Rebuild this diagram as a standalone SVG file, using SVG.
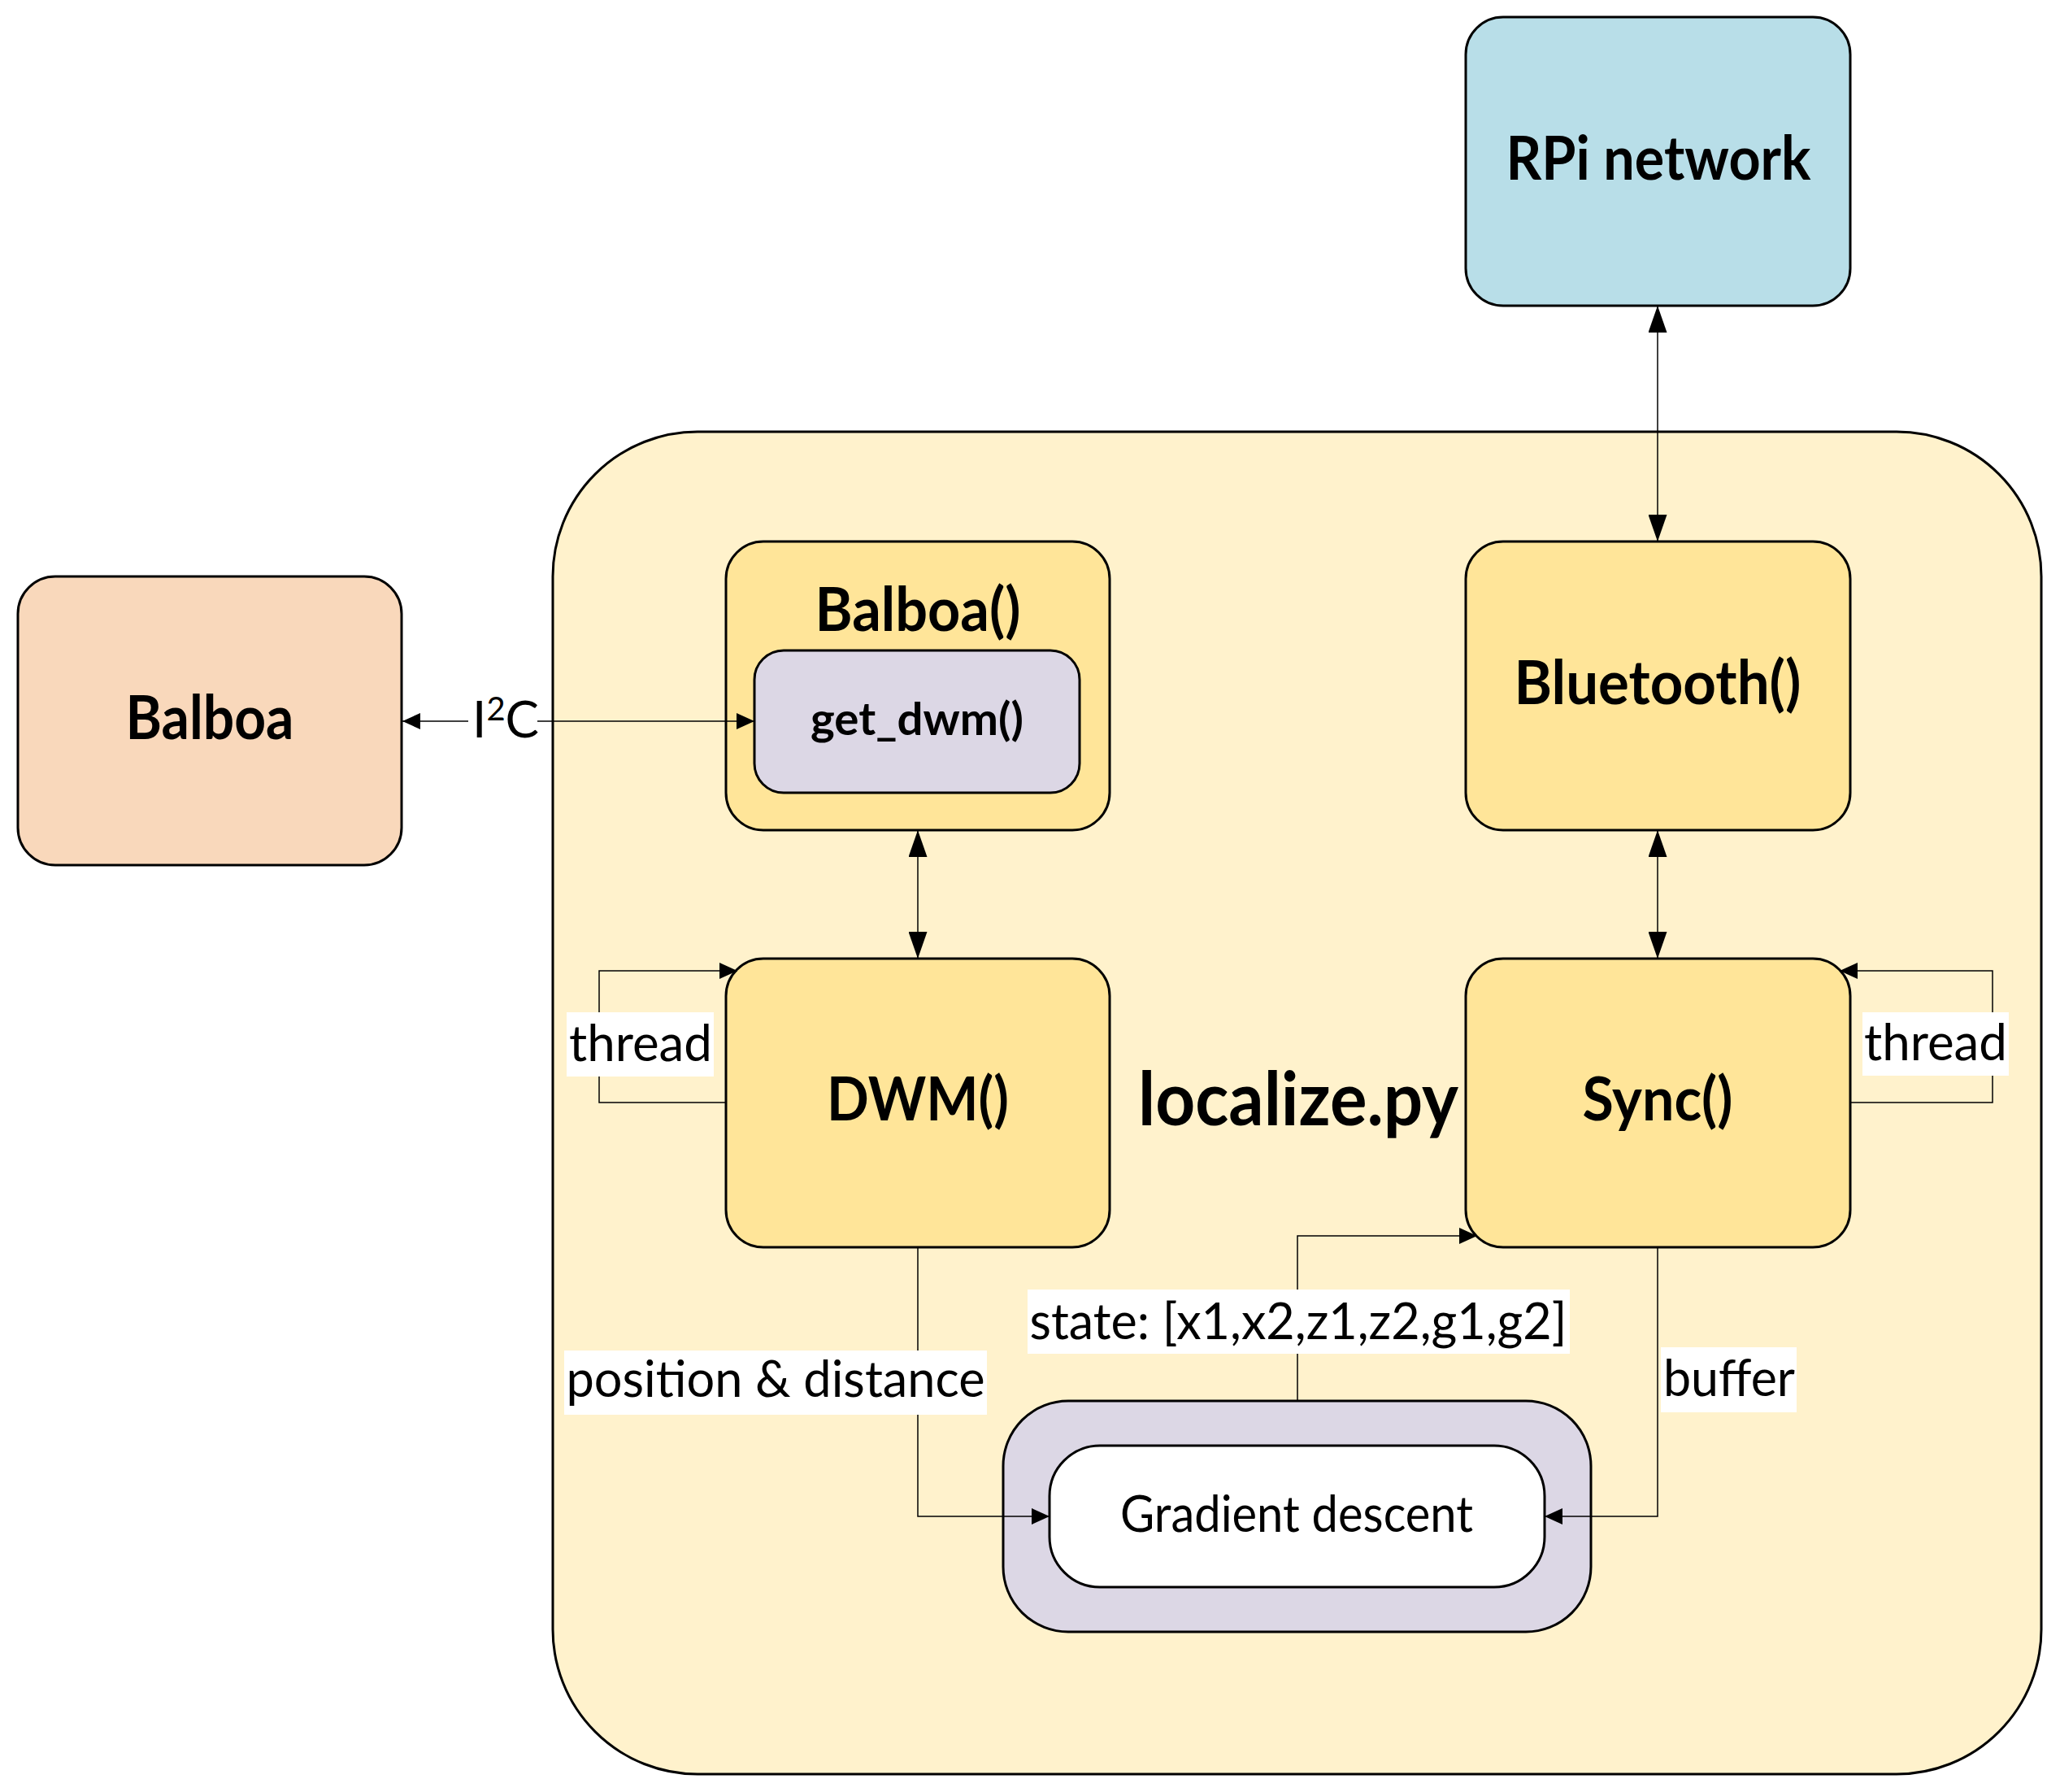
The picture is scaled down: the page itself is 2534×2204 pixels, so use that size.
<svg xmlns="http://www.w3.org/2000/svg" width="2534" height="2204" viewBox="0 0 2534 2204">
<style>
.box{stroke:#000;stroke-width:3}
.yel{fill:#FFE599}
.lav{fill:#DCD7E5}
.t{font-family:Lato,"Open Sans","Liberation Sans",sans-serif;fill:#000;text-anchor:middle}
.b{font-weight:bold}
.lbl{font-family:Lato,"Open Sans","Liberation Sans",sans-serif;fill:#000;font-size:62px;text-anchor:middle}
.bg{fill:#fff}
.c{fill:none;stroke:#000;stroke-width:1.5}
</style>
<defs>
<marker id="big" markerUnits="userSpaceOnUse" markerWidth="33" markerHeight="23" refX="33" refY="11.5" orient="auto-start-reverse"><path d="M0,0 L33,11.5 L0,23 z" fill="#000"/></marker>
<marker id="sm" markerUnits="userSpaceOnUse" markerWidth="22" markerHeight="20" refX="22" refY="10" orient="auto-start-reverse"><path d="M0,0 L22,10 L0,20 z" fill="#000"/></marker>
</defs>
<rect width="2534" height="2204" fill="#fff"/>
<g id="localize">
<rect class="box" x="680" y="531" width="1831" height="1651" rx="178" fill="#FFF2CC"/>
<text class="t b" x="1597" y="1384" font-size="92" textLength="394" lengthAdjust="spacingAndGlyphs">localize.py</text>
</g>
<g id="rpi">
<rect class="box" x="1803" y="21" width="473" height="355" rx="46" fill="#B8DEE8"/>
<text class="t b" x="2040" y="221" font-size="74" textLength="375" lengthAdjust="spacingAndGlyphs">RPi network</text>
</g>
<g id="balboa">
<rect class="box" x="22" y="709" width="472" height="355" rx="46" fill="#F9D8BB"/>
<text class="t b" x="258" y="909" font-size="74" textLength="207" lengthAdjust="spacingAndGlyphs">Balboa</text>
</g>
<g id="balboa-class">
<rect class="box yel" x="893" y="666" width="472" height="355" rx="46"/>
<text class="t b" x="1129" y="776" font-size="74" textLength="253" lengthAdjust="spacingAndGlyphs">Balboa()</text>
</g>
<g id="get-dwm">
<rect class="box lav" x="928" y="800" width="400" height="175" rx="36"/>
<text class="t b" x="1128" y="904" font-size="56" textLength="262" lengthAdjust="spacingAndGlyphs">get_dwm()</text>
</g>
<g id="bluetooth">
<rect class="box yel" x="1803" y="666" width="473" height="355" rx="46"/>
<text class="t b" x="2039" y="866" font-size="74" textLength="353" lengthAdjust="spacingAndGlyphs">Bluetooth()</text>
</g>
<g id="dwm">
<rect class="box yel" x="893" y="1179" width="472" height="355" rx="46"/>
<text class="t b" x="1129" y="1378" font-size="74" textLength="224" lengthAdjust="spacingAndGlyphs">DWM()</text>
</g>
<g id="sync">
<rect class="box yel" x="1803" y="1179" width="473" height="355" rx="46"/>
<text class="t b" x="2039" y="1378" font-size="74" textLength="185" lengthAdjust="spacingAndGlyphs">Sync()</text>
</g>
<g id="gradient">
<rect class="box lav" x="1234" y="1723" width="723" height="284" rx="80"/>
<rect class="box" x="1291" y="1778" width="609" height="174" rx="62" fill="#fff"/>
<text class="t" x="1595" y="1884" font-size="61" textLength="434" lengthAdjust="spacingAndGlyphs">Gradient descent</text>
</g>
<g id="connectors">
<path class="c" d="M2039,376 V666" marker-start="url(#big)" marker-end="url(#big)"/>
<path class="c" d="M1129,1021 V1179" marker-start="url(#big)" marker-end="url(#big)"/>
<path class="c" d="M2039,1021 V1179" marker-start="url(#big)" marker-end="url(#big)"/>
<path class="c" d="M495,887 H928" marker-start="url(#sm)" marker-end="url(#sm)"/>
<path class="c" d="M893,1356 H737 V1194 H907" marker-end="url(#sm)"/>
<path class="c" d="M2276,1356 H2451 V1194 H2263" marker-end="url(#sm)"/>
<path class="c" d="M1129,1534 V1865 H1291" marker-end="url(#sm)"/>
<path class="c" d="M1596,1723 V1520 H1817" marker-end="url(#sm)"/>
<path class="c" d="M2039,1534 V1865 H1900" marker-end="url(#sm)"/>
<rect class="bg" x="576" y="852" width="85" height="66"/>
<text class="lbl" x="622" y="907" font-size="64">I<tspan font-size="40" dy="-21">2</tspan><tspan dy="21">C</tspan></text>
<rect class="bg" x="697" y="1245" width="181" height="79"/>
<text class="lbl" x="788" y="1305" textLength="176" lengthAdjust="spacingAndGlyphs">thread</text>
<rect class="bg" x="2291" y="1245" width="180" height="78"/>
<text class="lbl" x="2381" y="1304" textLength="176" lengthAdjust="spacingAndGlyphs">thread</text>
<rect class="bg" x="694" y="1661" width="520" height="79"/>
<text class="lbl" x="954" y="1718" textLength="515" lengthAdjust="spacingAndGlyphs">position &amp; distance</text>
<rect class="bg" x="1264" y="1586" width="667" height="79"/>
<text class="lbl" x="1597" y="1647" textLength="661" lengthAdjust="spacingAndGlyphs">state: [x1,x2,z1,z2,g1,g2]</text>
<rect class="bg" x="2043" y="1657" width="167" height="80"/>
<text class="lbl" x="2127" y="1717" textLength="162" lengthAdjust="spacingAndGlyphs">buffer</text>
</g>
</svg>
